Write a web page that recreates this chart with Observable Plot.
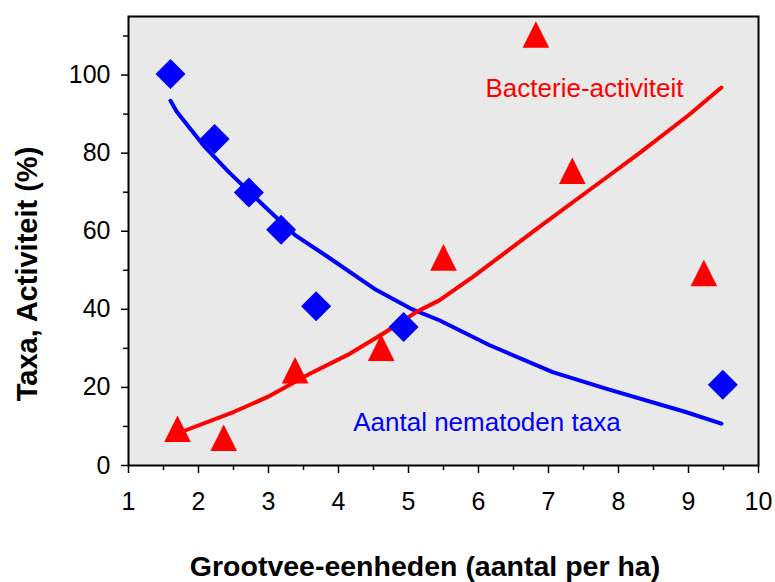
<!DOCTYPE html>
<html>
<head>
<meta charset="utf-8">
<script src="https://cdn.jsdelivr.net/npm/d3@7"></script>
<script src="https://cdn.jsdelivr.net/npm/@observablehq/plot@0.6"></script>
<style>
  html, body { margin: 0; padding: 0; background: white; }
</style>
</head>
<body>
<div id="chart"></div>
<script>
// Observed data: blue diamonds (Aantal nematoden taxa)
const taxaX = [1.60, 2.23, 2.72, 3.18, 3.68, 4.93, 9.49];
const taxaY = [100.3, 83.6, 69.9, 60.4, 40.8, 35.5, 20.7];
// Observed data: red triangles (Bacterie-activiteit)
const bactX = [1.70, 2.36, 3.38, 4.61, 5.50, 6.82, 7.34, 9.22];
const bactY = [9.4, 7.1, 24.4, 30.2, 53.3, 110.4, 75.5, 49.3];
// Fitted curve, nematode taxa
const taxaFitX = [1.60, 1.69, 2.09, 2.43, 2.90, 3.38, 3.85, 4.51, 5.03, 5.44, 6.16, 7.06, 7.82, 8.96, 9.47];
const taxaFitY = [93.4, 90.6, 81.6, 75.2, 67.1, 59.0, 53.4, 45.3, 40.2, 37.2, 30.8, 23.9, 19.7, 13.7, 10.7];
// Fitted curve, bacterial activity
const bactFitX = [1.80, 2.50, 2.98, 3.59, 4.16, 4.64, 5.11, 5.44, 5.92, 6.87, 7.58, 8.29, 9.00, 9.47];
const bactFitY = [8.9, 13.7, 17.5, 23.5, 28.6, 33.8, 39.3, 42.3, 48.3, 61.1, 70.5, 79.9, 89.7, 96.8];
// Ticks
const xTicks = [1, 2, 3, 4, 5, 6, 7, 8, 9, 10];
const xMinor = [1.5, 2.5, 3.5, 4.5, 5.5, 6.5, 7.5, 8.5, 9.5];
const yTicks = [0, 20, 40, 60, 80, 100];
const yMinor = [10, 30, 50, 70, 90, 110];
// Labels
const xTitle = "Grootvee-eenheden (aantal per ha)";
const yTitle = "Taxa, Activiteit (%)";
const bactLabel = {x: 6.10, y: 94.3, text: "Bacterie-activiteit"};
const taxaLabel = {x: 4.21, y: 8.8, text: "Aantal nematoden taxa"};

const taxaPts = taxaX.map((x, i) => ({x, y: taxaY[i]}));
const bactPts = bactX.map((x, i) => ({x, y: bactY[i]}));
const taxaFit = taxaFitX.map((x, i) => ({x, y: taxaFitY[i]}));
const bactFit = bactFitX.map((x, i) => ({x, y: bactFitY[i]}));

const diamond = {
  draw(ctx, size) {
    const r = Math.sqrt(size / Math.PI);
    ctx.moveTo(0, -r); ctx.lineTo(r, 0); ctx.lineTo(0, r); ctx.lineTo(-r, 0); ctx.closePath();
  }
};
const triangle = {
  draw(ctx, size) {
    const r = Math.sqrt(size / Math.PI);
    ctx.moveTo(0, -r); ctx.lineTo(r, r); ctx.lineTo(-r, r); ctx.closePath();
  }
};

const font = "'Liberation Sans', Arial, sans-serif";

const chart = Plot.plot({
  width: 775,
  height: 582,
  marginLeft: 128,
  marginRight: 17,
  marginTop: 16,
  marginBottom: 117,
  style: {fontFamily: font, background: "white", color: "black"},
  x: {domain: [1, 10]},
  y: {domain: [0, 115]},
  marks: [
    Plot.frame({fill: "#e9e9e9", stroke: "none"}),
    Plot.axisX({ticks: xTicks, tickSize: 8, tickPadding: 19, fontSize: 25, label: null, strokeWidth: 1.5}),
    Plot.axisX({ticks: xMinor, tickSize: 5, fill: "none", stroke: "black", label: null, strokeWidth: 1.5}),
    Plot.axisY({ticks: yTicks, tickSize: 7, tickPadding: 11, fontSize: 25, label: null, strokeWidth: 1.5}),
    Plot.axisY({ticks: yMinor, tickSize: 5, fill: "none", stroke: "black", label: null, strokeWidth: 1.5}),
    Plot.line(taxaFit, {x: "x", y: "y", stroke: "#0000ff", strokeWidth: 4, curve: "linear"}),
    Plot.line(bactFit, {x: "x", y: "y", stroke: "#ff0000", strokeWidth: 4, curve: "linear"}),
    Plot.dot(taxaPts, {x: "x", y: "y", symbol: diamond, r: 15, fill: "#0000ff", stroke: "none"}),
    Plot.dot(bactPts, {x: "x", y: "y", symbol: triangle, r: 13.3, fill: "#ff0000", stroke: "none"}),
    Plot.text([bactLabel], {x: "x", y: "y", text: "text", fill: "#ff0000", fontSize: 26, textAnchor: "start", lineAnchor: "bottom"}),
    Plot.text([taxaLabel], {x: "x", y: "y", text: "text", fill: "#0000ff", fontSize: 26, textAnchor: "start", lineAnchor: "bottom"}),
    Plot.frame({stroke: "black", strokeWidth: 2})
  ]
});

const svg = d3.select(chart);
svg.append("text")
  .attr("x", 425)
  .attr("y", 576)
  .attr("text-anchor", "middle")
  .attr("font-family", font)
  .attr("font-weight", "bold")
  .attr("font-size", 28.5)
  .attr("fill", "black")
  .text(xTitle);
svg.append("text")
  .attr("transform", "translate(37,274) rotate(-90)")
  .attr("text-anchor", "middle")
  .attr("font-family", font)
  .attr("font-weight", "bold")
  .attr("font-size", 29)
  .attr("fill", "black")
  .text(yTitle);

document.getElementById("chart").appendChild(chart);
</script>
</body>
</html>
